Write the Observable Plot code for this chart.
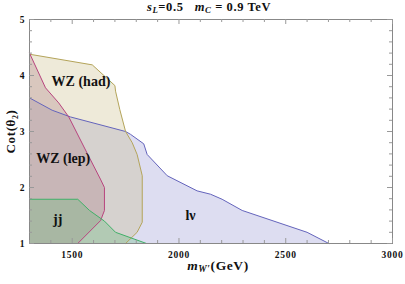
<!DOCTYPE html>
<html>
<head>
<meta charset="utf-8">
<script src="https://cdn.jsdelivr.net/npm/d3@7"></script>
<script src="https://cdn.jsdelivr.net/npm/@observablehq/plot@0.6"></script>
<style>
  html, body { margin: 0; padding: 0; background: #fff; }
  #wrap { position: relative; width: 405px; height: 284px; overflow: hidden; font-family: "Liberation Serif", "DejaVu Serif", serif; }
  .ov { position: absolute; font-weight: bold; white-space: nowrap; color: #111; line-height: 1; }
  sub { font-size: 70%; vertical-align: -0.25em; line-height: 0; }
  svg text { font-family: "Liberation Serif", serif; }
</style>
</head>
<body>
<div id="wrap"></div>
<script>
// ---- data ----
const lnuX  = [1300, 1406, 1492, 1750, 1773, 1835, 1851, 1945, 2085, 2148, 2202, 2296, 2600, 2702];
const lnuY  = [3.60, 3.38, 3.26, 3.00, 2.95, 2.78, 2.59, 2.21, 1.94, 1.88, 1.79, 1.59, 1.20, 1.00];

const wzHadX = [1300, 1594, 1700, 1703, 1723, 1750, 1781, 1804, 1828, 1828, 1804, 1750];
const wzHadY = [4.38, 4.19, 3.82, 3.72, 3.39, 3.00, 2.80, 2.59, 2.21, 1.38, 1.20, 1.00];

const wzLepX = [1300, 1375, 1437, 1484, 1573, 1632, 1651, 1651, 1633, 1526];
const wzLepY = [4.40, 3.78, 3.51, 3.26, 2.59, 2.15, 2.00, 1.59, 1.41, 1.00];

const jjX = [1300, 1526, 1581, 1651, 1703, 1848];
const jjY = [1.79, 1.79, 1.59, 1.40, 1.20, 1.00];

const regionNames   = ["lnu", "wzHad", "wzLep", "jj"];
const regionStroke  = ["#6464bc", "#b4a45a", "#b8447e", "#40b068"];
const regionFill    = ["#9090d0", "#c8b880", "#a87880", "#60b878"];

const labelText = ["WZ (had)", "WZ (lep)", "jj", "lν"];
const labelX    = [1541, 1458, 1432, 2054];
const labelY    = [3.90, 2.52, 1.43, 1.50];

const xMajor = [1500, 2000, 2500, 3000];
const xMinor = d3.range(1300, 3001, 100).filter(v => v % 500 !== 0);
const yMajor = [1, 2, 3, 4, 5];
const yMinor = d3.range(1, 5.001, 0.2).map(v => +v.toFixed(1)).filter(v => Math.abs(v - Math.round(v)) > 1e-6);

// ---- build tables ----
const zip = (xs, ys) => xs.map((x, i) => ({x, y: ys[i]}));
const corner = {x: 1300, y: 1};
const boundaries = {
  lnu: zip(lnuX, lnuY),
  wzHad: zip(wzHadX, wzHadY),
  wzLep: zip(wzLepX, wzLepY),
  jj: zip(jjX, jjY)
};
const labels = labelText.map((t, i) => ({t, x: labelX[i], y: labelY[i]}));

const W = 405, H = 284, mT = 19, mB = 41, mL = 29, mR = 13;
const pH = H - mT - mB, pW = W - mL - mR;
const tickColor = "#999";
const serif = "Liberation Serif";

const marks = [];
regionNames.forEach((name, i) => {
  const b = boundaries[name];
  marks.push(Plot.line([...b, corner], {x: "x", y: "y", fill: regionFill[i], fillOpacity: 0.3, stroke: "none", curve: "linear-closed"}));
});
regionNames.forEach((name, i) => {
  marks.push(Plot.line(boundaries[name], {x: "x", y: "y", stroke: regionStroke[i], strokeWidth: 1}));
});
marks.push(
  Plot.frame({stroke: "#888"}),
  Plot.tickX(xMajor, {x: d => d, insetTop: pH - 5, stroke: tickColor}),
  Plot.tickX(xMajor, {x: d => d, insetBottom: pH - 5, stroke: tickColor}),
  Plot.tickX(xMinor, {x: d => d, insetTop: pH - 3, stroke: tickColor}),
  Plot.tickX(xMinor, {x: d => d, insetBottom: pH - 3, stroke: tickColor}),
  Plot.tickY(yMajor, {y: d => d, insetRight: pW - 5, stroke: tickColor}),
  Plot.tickY(yMajor, {y: d => d, insetLeft: pW - 5, stroke: tickColor}),
  Plot.tickY(yMinor, {y: d => d, insetRight: pW - 3, stroke: tickColor}),
  Plot.tickY(yMinor, {y: d => d, insetLeft: pW - 3, stroke: tickColor}),
  Plot.axisX(xMajor, {tickSize: 0, tickPadding: 8, fontSize: 9.5, fontWeight: "bold", fontFamily: serif, tickFormat: d => String(d), label: null}),
  Plot.axisY(yMajor, {tickSize: 0, tickPadding: 5, fontSize: 9.5, fontWeight: "bold", fontFamily: serif, tickFormat: d => String(d), label: "Cot(θ₂)", labelAnchor: "center", labelArrow: "none", labelOffset: 24}),
  Plot.text(labels, {x: "x", y: "y", text: "t", fontSize: 14, fontWeight: "bold", fontFamily: serif, fill: "#111", letterSpacing: 0.8})
);

const chart = Plot.plot({
  width: W, height: H,
  marginTop: mT, marginBottom: mB, marginLeft: mL, marginRight: mR,
  x: {domain: [1300, 3000]},
  y: {domain: [1, 5]},
  style: {fontFamily: serif, color: "#111", background: "white", overflow: "visible"},
  marks
});
const wrap = document.getElementById("wrap");
wrap.appendChild(chart);

// tick labels slightly widened like the reference
d3.select(chart).selectAll("[aria-label='x-axis tick label'] text").style("letter-spacing", "0.7px");

// style y-label
d3.select(chart).selectAll("[aria-label='y-axis label'] text")
  .style("font-size", "13px").style("font-weight", "bold").style("letter-spacing", "0.6px").style("font-family", serif);

// title and x-axis label (with italic/subscripts)
const title = document.createElement("div");
title.className = "ov";
title.style.cssText = "left:0;width:418px;top:1px;text-align:center;font-size:12.5px;letter-spacing:0.6px;";
title.innerHTML = "<i>s</i><sub><i>L</i></sub>=0.5&nbsp;&nbsp;&nbsp;<i>m</i><sub><i>C</i></sub> = 0.9 TeV";
wrap.appendChild(title);

const xl = document.createElement("div");
xl.className = "ov";
xl.style.cssText = "left:0;width:436px;top:259px;text-align:center;font-size:13.5px;letter-spacing:0.6px;";
xl.innerHTML = "<i>m</i><sub><i>W′</i></sub>(GeV)";
wrap.appendChild(xl);
</script>
</body>
</html>
